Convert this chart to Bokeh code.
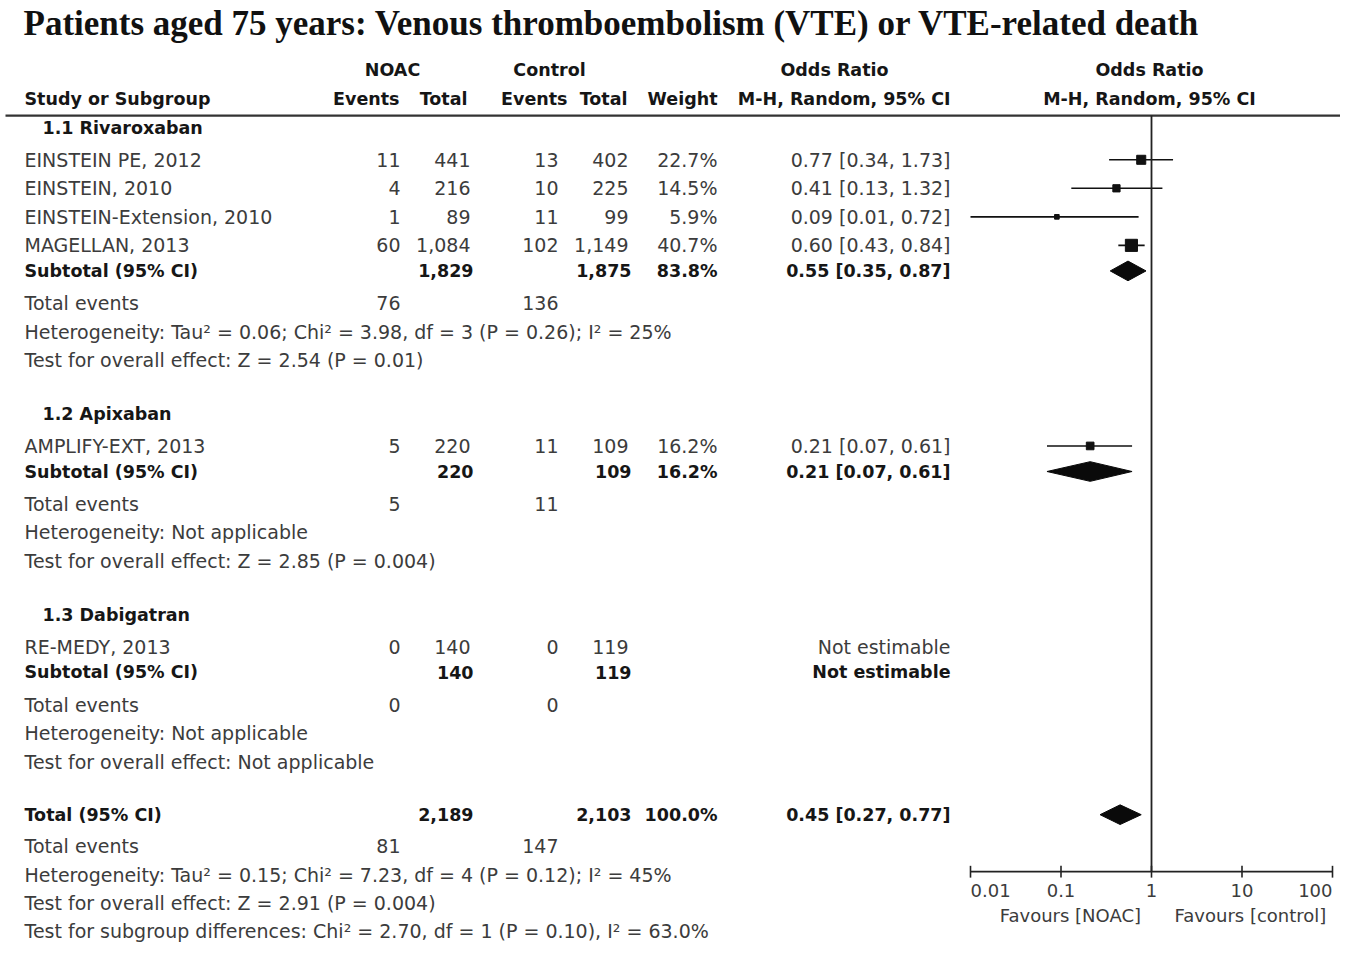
from bokeh.plotting import figure
from bokeh.models import Range1d, LogScale
from bokeh.core.properties import value
from bokeh.embed import file_html
from bokeh.resources import INLINE
import math

# ---------------- data ----------------
title_text = "Patients aged  75 years: Venous thromboembolism (VTE) or VTE-related death"

subgroup_names = ["1.1 Rivaroxaban", "1.2 Apixaban", "1.3 Dabigatran"]
study_names = ["EINSTEIN PE, 2012", "EINSTEIN, 2010", "EINSTEIN-Extension, 2010",
               "MAGELLAN, 2013", "AMPLIFY-EXT, 2013", "RE-MEDY, 2013"]
noac_events = [11, 4, 1, 60, 5, 0]
noac_total = ["441", "216", "89", "1,084", "220", "140"]
ctrl_events = [13, 10, 11, 102, 11, 0]
ctrl_total = ["402", "225", "99", "1,149", "109", "119"]
study_weight = [22.7, 14.5, 5.9, 40.7, 16.2, None]
study_or = [0.77, 0.41, 0.09, 0.60, 0.21, None]
study_lo = [0.34, 0.13, 0.01, 0.43, 0.07, None]
study_hi = [1.73, 1.32, 0.72, 0.84, 0.61, None]

sub_noac_total = ["1,829", "220", "140"]
sub_ctrl_total = ["1,875", "109", "119"]
sub_weight = ["83.8%", "16.2%", ""]
sub_or = [0.55, 0.21, None]
sub_lo = [0.35, 0.07, None]
sub_hi = [0.87, 0.61, None]
sub_noac_events = ["76", "5", "0"]
sub_ctrl_events = ["136", "11", "0"]
sub_het = ["Heterogeneity: Tau² = 0.06; Chi² = 3.98, df = 3 (P = 0.26); I² = 25%",
           "Heterogeneity: Not applicable",
           "Heterogeneity: Not applicable"]
sub_test = ["Test for overall effect: Z = 2.54 (P = 0.01)",
            "Test for overall effect: Z = 2.85 (P = 0.004)",
            "Test for overall effect: Not applicable"]

tot_noac_total = "2,189"
tot_ctrl_total = "2,103"
tot_weight = "100.0%"
tot_or, tot_lo, tot_hi = 0.45, 0.27, 0.77
tot_noac_events = "81"
tot_ctrl_events = "147"
tot_het = "Heterogeneity: Tau² = 0.15; Chi² = 7.23, df = 4 (P = 0.12); I² = 45%"
tot_test = "Test for overall effect: Z = 2.91 (P = 0.004)"
tot_subgroup = "Test for subgroup differences: Chi² = 2.70, df = 1 (P = 0.10), I² = 63.0%"

tick_values = [0.01, 0.1, 1, 10, 100]
tick_labels = ["0.01", "0.1", "1", "10", "100"]
favours_left = "Favours [NOAC]"
favours_right = "Favours [control]"

# ---------------- figure ----------------
W, H = 1340, 943
p = figure(width=W, height=H, x_range=Range1d(0, W), y_range=Range1d(959, 0),
           toolbar_location=None, output_backend="svg", min_border=0)
p.axis.visible = False
p.grid.visible = False
p.outline_line_color = None
p.background_fill_color = "white"

# log-scaled range for the forest plot: x_screen = 1151 + 90.5*log10(OR)
X1, PPD = 1151.0, 90.5
p.extra_x_ranges = {"or": Range1d(10 ** ((0 - X1) / PPD), 10 ** ((W - X1) / PPD))}
p.extra_x_scales = {"or": LogScale()}

FONT = "DejaVu Sans"
FS = 19
HB = 17.5
C_REG = "#3c3c3c"
C_BOLD = "#161616"


def txt(x, y, s, align="left", bold=False, size=FS, color=None, font=FONT, rn="default"):
    if color is None:
        color = C_BOLD if bold else C_REG
    p.text(x=[x], y=[y], text=[s], text_align=align, text_baseline="middle",
           text_font=value(font), text_font_size=f"{size}px",
           text_font_style="bold" if bold else "normal", text_color=color,
           x_range_name=rn)


# title
txt(23, 23, title_text, bold=True, size=35, font="Liberation Serif", color="#111111")

# headers
txt(392, 71, "NOAC", "center", True, HB)
txt(549, 71, "Control", "center", True, HB)
txt(834, 71, "Odds Ratio", "center", True, HB)
txt(1149, 71, "Odds Ratio", "center", True, HB)
txt(24, 100, "Study or Subgroup", "left", True, HB)
txt(399, 100, "Events", "right", True, HB)
txt(467, 100, "Total", "right", True, HB)
txt(567, 100, "Events", "right", True, HB)
txt(627, 100, "Total", "right", True, HB)
txt(717, 100, "Weight", "right", True, HB)
txt(950, 100, "M-H, Random, 95% CI", "right", True, HB)
txt(1149, 100, "M-H, Random, 95% CI", "center", True, HB)

p.segment(x0=[5], x1=[W], y0=[117], y1=[117], line_color="#333333", line_width=2.2)

# column right edges
C_NE, C_NT, C_CE, C_CT, C_W, C_OR = 400, 470, 558, 628, 717, 950


def ci_text(o, lo, hi):
    return f"{o:.2f} [{lo:.2f}, {hi:.2f}]"


group_y = [130, 421, 625]
study_y = [162, 191, 220, 249, 453, 657]
sub_y = [275, 479, 683]
ev_y = [308, 512, 716]
het_y = [337, 541, 745]
test_y = [366, 570, 774]

for g, name in enumerate(subgroup_names):
    txt(42, group_y[g], name, bold=True, size=HB)

for i, name in enumerate(study_names):
    y = study_y[i]
    txt(24, y, name)
    txt(C_NE, y, str(noac_events[i]), "right")
    txt(C_NT, y, noac_total[i], "right")
    txt(C_CE, y, str(ctrl_events[i]), "right")
    txt(C_CT, y, ctrl_total[i], "right")
    if study_weight[i] is not None:
        txt(C_W, y, f"{study_weight[i]:.1f}%", "right")
        txt(C_OR, y, ci_text(study_or[i], study_lo[i], study_hi[i]), "right")
        p.segment(x0=[study_lo[i]], x1=[study_hi[i]], y0=[y], y1=[y], line_color="#111111",
                  line_width=1.6, x_range_name="or")
        p.scatter(x=[study_or[i]], y=[y], marker="square", size=1.9 * math.sqrt(study_weight[i]),
                  fill_color="#111111", line_color="#111111", x_range_name="or")
    else:
        txt(C_OR, y, "Not estimable", "right")


def diamond(o, lo, hi, y, h=10):
    p.patch(x=[lo, o, hi, o], y=[y, y - h, y, y + h], fill_color="#0a0a0a",
            line_color="#0a0a0a", x_range_name="or")


for g in range(3):
    y = sub_y[g]
    txt(24, y, "Subtotal (95% CI)", bold=True, size=HB)
    txt(C_NT + 3, y, sub_noac_total[g], "right", True, HB)
    txt(C_CT + 3, y, sub_ctrl_total[g], "right", True, HB)
    if sub_weight[g]:
        txt(C_W, y, sub_weight[g], "right", True, HB)
    if sub_or[g] is not None:
        txt(C_OR, y, ci_text(sub_or[g], sub_lo[g], sub_hi[g]), "right", True, HB)
        diamond(sub_or[g], sub_lo[g], sub_hi[g], y)
    else:
        txt(C_OR, y, "Not estimable", "right", True, HB)
    txt(24, ev_y[g], "Total events")
    txt(C_NE, ev_y[g], sub_noac_events[g], "right")
    txt(C_CE, ev_y[g], sub_ctrl_events[g], "right")
    txt(24, het_y[g], sub_het[g])
    txt(24, test_y[g], sub_test[g])

# overall
txt(24, 828, "Total (95% CI)", bold=True, size=HB)
txt(C_NT + 3, 828, tot_noac_total, "right", True, HB)
txt(C_CT + 3, 828, tot_ctrl_total, "right", True, HB)
txt(C_W, 828, tot_weight, "right", True, HB)
txt(C_OR, 828, ci_text(tot_or, tot_lo, tot_hi), "right", True, HB)
diamond(tot_or, tot_lo, tot_hi, 828)
txt(24, 860, "Total events")
txt(C_NE, 860, tot_noac_events, "right")
txt(C_CE, 860, tot_ctrl_events, "right")
txt(24, 889, tot_het)
txt(24, 918, tot_test)
txt(24, 946, tot_subgroup)

# forest: line of no effect and axis
AX_Y = 886
p.segment(x0=[1], x1=[1], y0=[117], y1=[AX_Y], line_color="#222222", line_width=1.8,
          x_range_name="or")
p.segment(x0=[tick_values[0]], x1=[tick_values[-1]], y0=[AX_Y], y1=[AX_Y],
          line_color="#222222", line_width=1.8, x_range_name="or")
p.segment(x0=tick_values, x1=tick_values, y0=[AX_Y - 6] * len(tick_values),
          y1=[AX_Y + 6] * len(tick_values), line_color="#222222", line_width=1.6,
          x_range_name="or")
for i, (tv, tl) in enumerate(zip(tick_values, tick_labels)):
    al = "left" if i == 0 else ("right" if i == len(tick_values) - 1 else "center")
    txt(tv, 905, tl, al, size=18, rn="or")
txt(0.127, 931, favours_left, "center", size=18, rn="or")
txt(12.4, 931, favours_right, "center", size=18, rn="or")

open("out.html", "w").write(file_html(p, INLINE))
